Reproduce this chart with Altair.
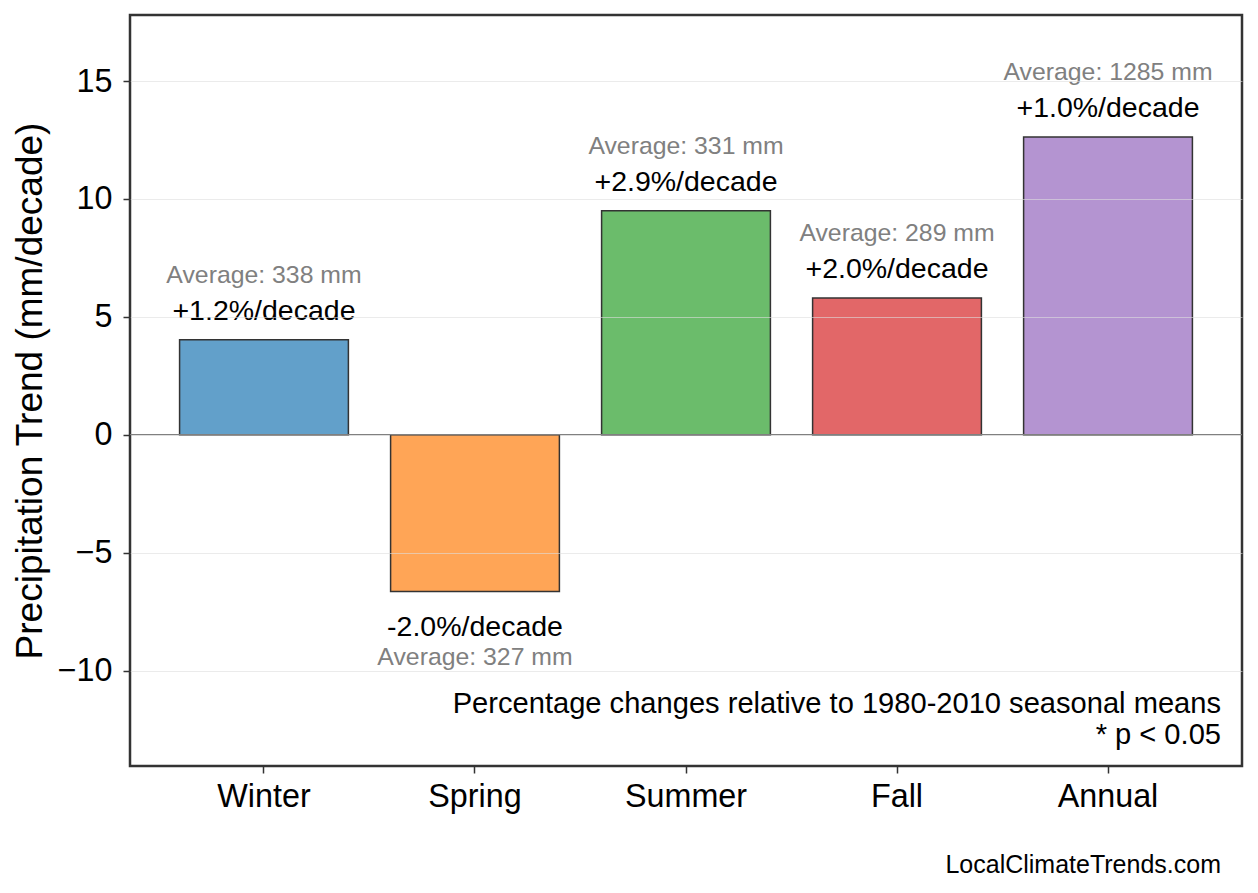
import altair as alt
import pandas as pd

seasons = ["Winter", "Spring", "Summer", "Fall", "Annual"]
trend = [4.03, -6.65, 9.50, 5.80, 12.63]
pct_labels = ["+1.2%/decade", "-2.0%/decade", "+2.9%/decade", "+2.0%/decade", "+1.0%/decade"]
avg_labels = ["Average: 338 mm", "Average: 327 mm", "Average: 331 mm", "Average: 289 mm", "Average: 1285 mm"]
colors = ["#1f77b4", "#ff7f0e", "#2ca02c", "#d62728", "#9467bd"]
y_ticks = [-10, -5, 0, 5, 10, 15]
y_title = "Precipitation Trend (mm/decade)"
note_lines = ["Percentage changes relative to 1980-2010 seasonal means", "* p < 0.05"]
source = "LocalClimateTrends.com"

FONT = "Liberation Sans"
W, H = 1112, 751

df = pd.DataFrame({"season": seasons, "trend": trend, "pct": pct_labels, "avg": avg_labels})
one = pd.DataFrame({"k": [0]})

x = alt.X(
    "season:N", sort=seasons,
    scale=alt.Scale(paddingInner=0.2, paddingOuter=0.235),
    axis=alt.Axis(title=None, labelAngle=0, labelFontSize=32.3, labelColor="black",
                  labelPadding=7, tickSize=7, tickWidth=1.5, tickColor="#333333",
                  domain=False, grid=False, labelFont=FONT),
)
y = alt.Y(
    "trend:Q",
    scale=alt.Scale(domain=[-14.05, 17.8], nice=False, zero=False),
    axis=alt.Axis(title=y_title, values=y_ticks, labelFontSize=32.3, labelColor="black",
                  labelPadding=11, tickSize=7, tickWidth=1.5, tickColor="#333333",
                  titleFontSize=37, titleFontWeight="normal", titleColor="black",
                  titlePadding=8, domain=False, grid=True, gridColor="#dddddd",
                  gridOpacity=alt.condition("datum.value === 0", alt.value(0), alt.value(0.6)),
                  gridWidth=1, zindex=1, labelFont=FONT, titleFont=FONT),
)

base = alt.Chart(df)

bars = base.mark_bar(fillOpacity=0.7, stroke="#333333", strokeWidth=1.5).encode(
    x=x, y=y, y2=alt.datum(0),
    color=alt.Color("season:N", scale=alt.Scale(domain=seasons, range=colors), legend=None),
)

zero = alt.Chart(one).mark_rule(color="#808080", strokeWidth=1.2).encode(y=alt.datum(0))

pos = base.transform_filter("datum.trend >= 0")
neg = base.transform_filter("datum.trend < 0")

pct_pos = pos.mark_text(font=FONT, fontSize=28.5, color="black", baseline="alphabetic", dy=-20).encode(
    x=alt.X("season:N", sort=seasons), y="trend:Q", text="pct:N")
avg_pos = pos.mark_text(font=FONT, fontSize=24.8, color="#808080", baseline="alphabetic", dy=-57).encode(
    x=alt.X("season:N", sort=seasons), y="trend:Q", text="avg:N")
pct_neg = neg.mark_text(font=FONT, fontSize=28.5, color="black", baseline="alphabetic", dy=44).encode(
    x=alt.X("season:N", sort=seasons), y="trend:Q", text="pct:N")
avg_neg = neg.mark_text(font=FONT, fontSize=24.8, color="#808080", baseline="alphabetic", dy=73).encode(
    x=alt.X("season:N", sort=seasons), y="trend:Q", text="avg:N")

note1 = alt.Chart(one).mark_text(text=note_lines[0], font=FONT, fontSize=29.1, color="black",
                                 align="right", baseline="alphabetic").encode(
    x=alt.value(1091), y=alt.value(698))
note2 = alt.Chart(one).mark_text(text=note_lines[1], font=FONT, fontSize=29.1, color="black",
                                 align="right", baseline="alphabetic").encode(
    x=alt.value(1091), y=alt.value(729))
src = alt.Chart(one).mark_text(text=source, font=FONT, fontSize=25, color="black",
                               align="right", baseline="alphabetic").encode(
    x=alt.value(1091), y=alt.value(858))

chart = alt.layer(bars, zero, pct_pos, avg_pos, pct_neg, avg_neg, note1, note2, src).properties(
    width=W, height=H,
    autosize=alt.AutoSizeParams(type="none"),
    padding={"left": 122, "top": 7, "right": 6, "bottom": 118},
).configure(font=FONT).configure_view(stroke="#333333", strokeWidth=2.5)

chart.save("out.html", embed_options={"renderer": "svg", "actions": False})
